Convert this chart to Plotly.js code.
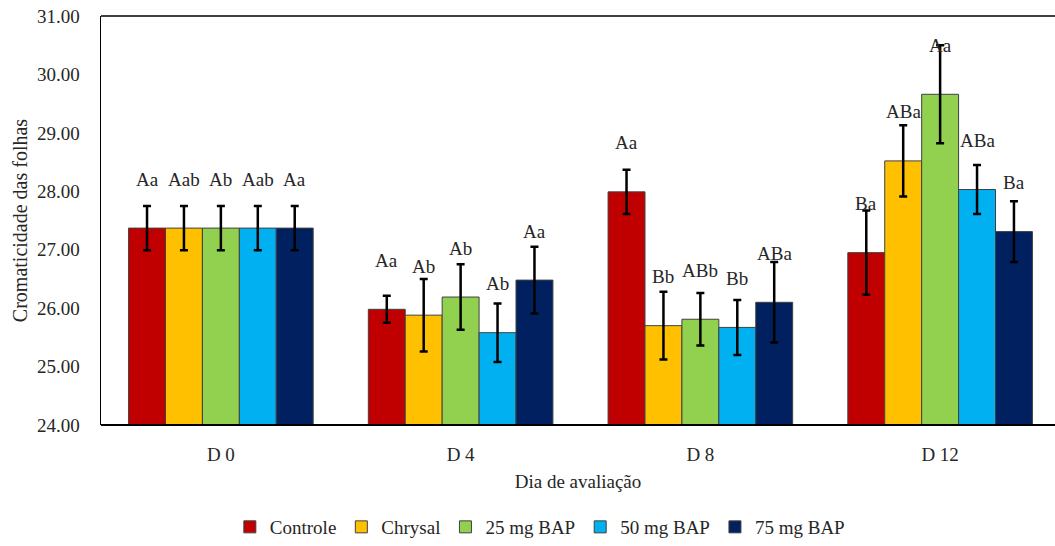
<!DOCTYPE html>
<html>
<head>
<meta charset="utf-8">
<script src="https://cdn.plot.ly/plotly-3.0.1.min.js"></script>
<style>html,body{margin:0;padding:0;background:#fff;}#chart{width:1055px;height:546px;}</style>
</head>
<body>
<div id="chart"></div>
<script>
const categories = ["D 0", "D 4", "D 8", "D 12"];
const seriesNames = ["Controle", "Chrysal", "25 mg BAP", "50 mg BAP", "75 mg BAP"];
const colors = ["#C00000", "#FFC000", "#92D050", "#00B0F0", "#002060"];
const controle = [27.37, 25.98, 27.99, 26.95];
const chrysal  = [27.37, 25.88, 25.70, 28.52];
const bap25    = [27.37, 26.19, 25.81, 29.66];
const bap50    = [27.37, 25.58, 25.67, 28.03];
const bap75    = [27.37, 26.48, 26.10, 27.31];
const errControle = [0.38, 0.23, 0.38, 0.72];
const errChrysal  = [0.38, 0.62, 0.58, 0.61];
const err25       = [0.38, 0.56, 0.45, 0.84];
const err50       = [0.38, 0.50, 0.47, 0.42];
const err75       = [0.38, 0.57, 0.69, 0.52];
const lblControle = ["Aa", "Aa", "Aa", "Ba"];
const lblChrysal  = ["Aab", "Ab", "Bb", "ABa"];
const lbl25       = ["Ab", "Ab", "ABb", "Aa"];
const lbl50       = ["Aab", "Ab", "Bb", "ABa"];
const lbl75       = ["Aa", "Aa", "ABa", "Ba"];

const values = [controle, chrysal, bap25, bap50, bap75];
const errs = [errControle, errChrysal, err25, err50, err75];
const labels = [lblControle, lblChrysal, lbl25, lbl50, lbl75];

const FONT = "Liberation Serif, Times New Roman, serif";
const TXT = "#262626";
const bargap = 0.23;
const traces = values.map((v, i) => ({
  type: "bar",
  name: seriesNames[i],
  x: categories,
  y: v,
  marker: {color: colors[i], line: {color: "#404040", width: 1}},
  error_y: {type: "data", array: errs[i], visible: true, color: "#000", thickness: 2.5, width: 4}
}));

const annotations = [];
const slot = (1 - bargap) / 5;
values.forEach((v, i) => {
  v.forEach((val, j) => {
    annotations.push({
      x: j + (i - 2) * slot, y: val, xref: "x", yref: "y",
      text: labels[i][j], showarrow: false, yshift: 49,
      font: {family: FONT, size: 19, color: TXT}
    });
  });
});

const layout = {
  width: 1055, height: 546,
  margin: {l: 101, r: 0, t: 16, b: 119},
  paper_bgcolor: "#fff", plot_bgcolor: "#fff",
  barmode: "group", bargap: bargap, bargroupgap: 0,
  font: {family: FONT, size: 19, color: TXT},
  xaxis: {
    type: "category", range: [-0.5, 3.5 - 5/240],
    showline: false, ticks: "outside", ticklen: 12, tickcolor: "rgba(0,0,0,0)", showgrid: false,
    tickfont: {family: FONT, size: 19, color: TXT},
    title: {text: "Dia de avaliação", font: {family: FONT, size: 19, color: TXT}, standoff: 10}
  },
  yaxis: {
    range: [24, 31], dtick: 1, tickformat: ".2f",
    showline: true, linecolor: "#000", linewidth: 1.5,
    ticks: "outside", ticklen: 16, tickcolor: "rgba(0,0,0,0)", showgrid: false, zeroline: false,
    tickfont: {family: FONT, size: 19, color: TXT},
    title: {text: "Cromaticidade das folhas", font: {family: FONT, size: 20, color: TXT}, standoff: 4}
  },
  shapes: [
    {type: "line", xref: "paper", yref: "paper", x0: 0, x1: 1, y0: 1, y1: 1, line: {color: "#000", width: 1.5}},
    {type: "line", xref: "paper", yref: "paper", x0: 0, x1: 1, y0: 0, y1: 0, line: {color: "#000", width: 2}}
  ],
  legend: {
    orientation: "h", x: 0.46, xanchor: "center", y: -0.25, yanchor: "middle",
    font: {family: FONT, size: 19, color: TXT}, traceorder: "normal",
    itemwidth: 30
  },
  annotations: annotations,
  showlegend: true
};

Plotly.newPlot("chart", traces, layout, {displayModeBar: false, staticPlot: true});
</script>
</body>
</html>
